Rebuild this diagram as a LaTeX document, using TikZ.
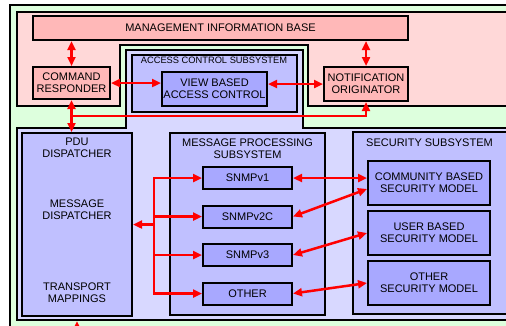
\documentclass[tikz,border=0pt]{standalone}
\usepackage{fontspec}
\setmainfont{Liberation Sans}
\usetikzlibrary{arrows.meta}
\definecolor{bggreen}{RGB}{221,255,221}
\definecolor{pinkarea}{RGB}{255,216,216}
\definecolor{mibpink}{RGB}{255,184,184}
\definecolor{bluearea}{RGB}{216,216,255}
\definecolor{subblue}{RGB}{192,192,255}
\definecolor{inblue}{RGB}{168,168,255}
\begin{document}
\begin{tikzpicture}[x=1pt,y=-1pt,
        frame/.style={draw=black,line width=2pt},
        box/.style={frame,align=center,inner sep=0pt,font=\fontsize{11}{12}\selectfont},
        pinkbox/.style={box,fill=mibpink},
        subbox/.style={box,fill=subblue},
        inbox/.style={box,fill=inblue},
        txt/.style={align=center,inner sep=0pt,font=\fontsize{11}{12}\selectfont},
        arr/.style={draw=red,line width=2.5pt,-{Triangle[length=9pt,width=8pt]}},
        dblarr/.style={arr,{Triangle[length=9pt,width=8pt]}-{Triangle[length=9pt,width=8pt]}}]
    \useasboundingbox (0,0) rectangle (506,325);
    \clip (0,0) rectangle (506,325);
    % areas
    \draw[frame, fill=bggreen] (10,5) rectangle (530,345);
    \draw[frame, fill=pinkarea] (17,12) -- (530,12) -- (530,106) -- (308,106) -- (308,45)
        -- (120,45) -- (120,106) -- (17,106) -- cycle;
    \draw[frame, fill=bluearea] (17,128) -- (126,128) -- (126,50) -- (303,50) -- (303,128)
        -- (530,128) -- (530,320) -- (17,320) -- cycle;
    % upper part
    \node[pinkbox, minimum width=375pt, minimum height=24pt] (mib) at (220.5,28) {MANAGEMENT INFORMATION BASE};
    \node[pinkbox, minimum width=77pt, minimum height=32pt] (cmdresp) at (71.5,83) {COMMAND\\RESPONDER};
    \node[pinkbox, minimum width=84pt, minimum height=34pt] (notiforig) at (366,84) {NOTIFICATION\\ORIGINATOR};
    \node[subbox, minimum width=165pt, minimum height=57pt] (accsub) at (214.5,83.5) {};
    \node[txt, font=\fontsize{9.3}{10}\selectfont] (acctitle) at (214,60.5) {ACCESS CONTROL SUBSYSTEM};
    \node[inbox, minimum width=105pt, minimum height=34pt] (viewacc) at (214.5,89) {VIEW BASED\\ACCESS CONTROL};
    % lower part
    \node[subbox, minimum width=110pt, minimum height=183pt] (pdu) at (77,224.5) {};
    \node[txt] (pdutitle) at (77,148) {PDU\\DISPATCHER};
    \node[txt] (msgdisp) at (77,210) {MESSAGE\\DISPATCHER};
    \node[txt] (transport) at (77,293) {TRANSPORT\\MAPPINGS};
    \node[subbox, minimum width=155pt, minimum height=182pt] (msgproc) at (247.5,224) {};
    \node[txt] (mptitle) at (247.5,148.5) {MESSAGE PROCESSING\\SUBSYSTEM};
    \node[subbox, minimum width=177pt, minimum height=182pt] (secsub) at (441.5,223) {};
    \node[txt] (sectitle) at (429.5,143) {SECURITY SUBSYSTEM};
    \foreach \n/\t/\y in {snmpa/SNMPv1/178, snmpb/SNMPv2C/216.5, snmpc/SNMPv3/255, snmpd/OTHER/293.5} {
        \node[inbox, minimum width=89pt, minimum height=22pt] (\n) at (247.5,\y) {\t};
    }
    \node[inbox, minimum width=122pt, minimum height=44pt] (commsec) at (429,183) {COMMUNITY BASED\\SECURITY MODEL};
    \node[inbox, minimum width=122pt, minimum height=44pt] (usersec) at (429,233) {USER BASED\\SECURITY MODEL};
    \node[inbox, minimum width=122pt, minimum height=44pt] (othersec) at (429,283) {OTHER\\SECURITY MODEL};
    % connectors
    \draw[dblarr] (cmdresp.north) -- (cmdresp.north |- mib.south);
    \draw[dblarr] (notiforig.north) -- (notiforig.north |- mib.south);
    \draw[dblarr] (cmdresp.east) -- (cmdresp.east -| viewacc.west);
    \draw[dblarr] (notiforig.west) -- (notiforig.west -| viewacc.east);
    \draw[dblarr] (cmdresp.south) -- (cmdresp.south |- pdu.north);
    \coordinate (join) at (cmdresp.south |- 0,116);
    \draw[arr] (join) -| (notiforig.south);
    \coordinate (fork) at ([xshift=21pt]pdu.east);
    \draw[arr] (fork) -- (pdu.east);
    \foreach \s in {snmpa,snmpb,snmpc,snmpd}
        \draw[arr] (fork) |- (\s.west);
    \draw[dblarr] (snmpa.east) -- (snmpa.east -| commsec.west);
    \draw[dblarr] (snmpb.east) -- ([yshift=-6pt]commsec.west);
    \draw[dblarr] (snmpc.east) -- (usersec.west);
    \draw[dblarr] (snmpd.east) -- (othersec.west);
    \coordinate (below) at (pdu.south |- 0,345);
    \draw[arr, shorten >=4pt] (below) -- (pdu.south);
\end{tikzpicture}
\end{document}
